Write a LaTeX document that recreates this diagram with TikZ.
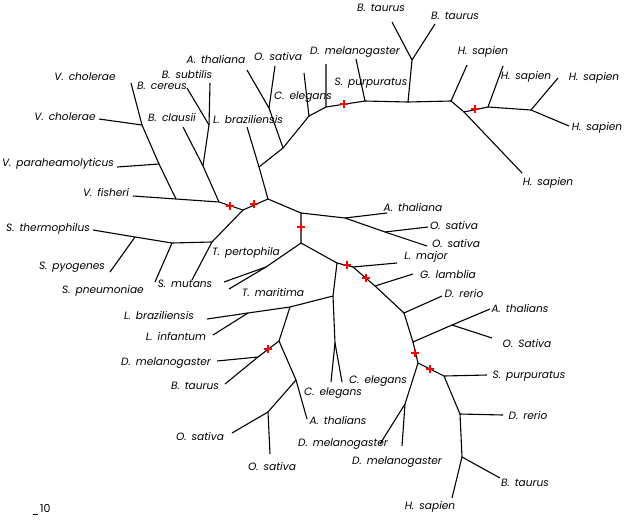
\documentclass[tikz,border=0pt]{standalone}
\usepackage{fontspec}
\setmainfont{Poppins}[WordSpace=1.6]
\newcommand{\redstar}[1]{\draw[red, line width=1.7pt, shift={(#1)}] (-4,0) -- (4,0) (0,-4) -- (0,4);}
\begin{document}
\begin{tikzpicture}[
    x=1pt,
    y=-1pt,
    branch/.style={line width=1.1pt},
    taxon/.style={font=\itshape\fontsize{10.6}{12}\selectfont, inner sep=0pt, anchor=mid}
]
\useasboundingbox (0,0) rectangle (628,525);

% Inner nodes, centre
\coordinate (r1t) at (301,213);
\coordinate (r1b) at (301,243);
\coordinate (na) at (268,199);
\coordinate (nb) at (259,167);
\coordinate (nc) at (283,148);
\coordinate (nd) at (269,108);
\coordinate (ne) at (309,116);
\coordinate (nf) at (326,107);
\coordinate (ng) at (365,101);
\coordinate (nh) at (408,102);
\coordinate (ni) at (412,60);
\coordinate (nj) at (451,101);
\coordinate (nk) at (464,112);
\coordinate (nl) at (488,107);
\coordinate (nm) at (531,110);
\coordinate (na1) at (345,218);
\coordinate (na2) at (385,232);

% Inner nodes, left
\coordinate (nn) at (243,210);
\coordinate (nx) at (219,202);
\coordinate (ny) at (203,166);
\coordinate (nz) at (209,125);
\coordinate (v1) at (176,199);
\coordinate (v2) at (159,164);
\coordinate (v3) at (142,125);
\coordinate (s1) at (212,242);
\coordinate (s2) at (172,243);
\coordinate (s3) at (135,237);

% Inner nodes, bottom
\coordinate (t1) at (266,267);
\coordinate (r2) at (337,263);
\coordinate (nl1) at (353,267);
\coordinate (nl2) at (375,286);
\coordinate (nl3) at (404,313);
\coordinate (nl4) at (413,342);
\coordinate (nao) at (452,325);
\coordinate (nl5) at (418,363);
\coordinate (nd1) at (405,404);
\coordinate (np1) at (444,376);
\coordinate (np2) at (460,414);
\coordinate (np3) at (462,457);
\coordinate (q1) at (333,296);
\coordinate (q2) at (290,307);
\coordinate (q3) at (248,313);
\coordinate (q4) at (335,343);
\coordinate (q5) at (279,341);
\coordinate (q6) at (258,357);
\coordinate (q7) at (296,380);
\coordinate (q8) at (268,412);

% Leaves
\coordinate (lbraz1) at (247,127);
\coordinate (athal1) at (247,70);
\coordinate (osat1) at (275,66);
\coordinate (celeg1) at (304,73);
\coordinate (dmel1) at (326,64);
\coordinate (spurp1) at (356,59);
\coordinate (btau1) at (392,22);
\coordinate (btau2) at (435,24);
\coordinate (hsap1) at (467,65);
\coordinate (hsap2) at (503,66);
\coordinate (hsap3) at (558,78);
\coordinate (hsap4) at (569,126);
\coordinate (hsap5) at (522,173);
\coordinate (athal2) at (387,213);
\coordinate (osat2) at (428,227);
\coordinate (osat3) at (427,246);
\coordinate (bclau) at (183,127);
\coordinate (bsub) at (210,83);
\coordinate (bcer) at (187,88);
\coordinate (vfis) at (133,196);
\coordinate (vpar) at (117,167);
\coordinate (vcho1) at (99,119);
\coordinate (vcho2) at (131,83);
\coordinate (smut) at (192,280);
\coordinate (spne) at (155,282);
\coordinate (sthe) at (93,230);
\coordinate (spyo) at (110,272);
\coordinate (tper) at (224,282);
\coordinate (tmar) at (229,289);
\coordinate (lmaj) at (397,263);
\coordinate (glam) at (413,274);
\coordinate (drer1) at (442,296);
\coordinate (athals1) at (490,309);
\coordinate (osats) at (492,338);
\coordinate (dmel2) at (380,444);
\coordinate (dmel3) at (402,446);
\coordinate (spurp2) at (487,375);
\coordinate (drer2) at (503,415);
\coordinate (btau3) at (500,478);
\coordinate (hsap6) at (452,498);
\coordinate (lbraz2) at (207,319);
\coordinate (linf) at (213,335);
\coordinate (celeg2) at (331,382);
\coordinate (celeg3) at (342,382);
\coordinate (dmel4) at (217,361);
\coordinate (btau4) at (225,384);
\coordinate (athals2) at (307,419);
\coordinate (osat4) at (232,433);
\coordinate (osat5) at (270,454);

% Branches, upper arc
\draw[branch] (r1b) -- (r1t) -- (na) -- (nb) -- (lbraz1);
\draw[branch] (nb) -- (nc) -- (nd) -- (athal1);
\draw[branch] (nd) -- (osat1);
\draw[branch] (nc) -- (ne) -- (celeg1);
\draw[branch] (ne) -- (nf) -- (dmel1);
\draw[branch] (nf) -- (ng) -- (spurp1);
\draw[branch] (ng) -- (nh) -- (ni) -- (btau1);
\draw[branch] (ni) -- (btau2);
\draw[branch] (nh) -- (nj) -- (hsap1);
\draw[branch] (nj) -- (nk) -- (hsap5);
\draw[branch] (nk) -- (nl) -- (hsap2);
\draw[branch] (nl) -- (nm) -- (hsap3);
\draw[branch] (nm) -- (hsap4);
\draw[branch] (r1t) -- (na1) -- (athal2);
\draw[branch] (na1) -- (na2) -- (osat2);
\draw[branch] (na2) -- (osat3);

% Branches, left
\draw[branch] (na) -- (nn) -- (nx) -- (v1) -- (vfis);
\draw[branch] (v1) -- (v2) -- (vpar);
\draw[branch] (v2) -- (v3) -- (vcho1);
\draw[branch] (v3) -- (vcho2);
\draw[branch] (nx) -- (ny) -- (bclau);
\draw[branch] (ny) -- (nz) -- (bsub);
\draw[branch] (nz) -- (bcer);
\draw[branch] (nn) -- (s1) -- (smut);
\draw[branch] (s1) -- (s2) -- (spne);
\draw[branch] (s2) -- (s3) -- (sthe);
\draw[branch] (s3) -- (spyo);

% Branches, lower
\draw[branch] (r1b) -- (t1) -- (tper);
\draw[branch] (t1) -- (tmar);
\draw[branch] (r1b) -- (r2) -- (nl1) -- (lmaj);
\draw[branch] (nl1) -- (nl2) -- (glam);
\draw[branch] (nl2) -- (nl3) -- (drer1);
\draw[branch] (nl3) -- (nl4) -- (nao) -- (athals1);
\draw[branch] (nao) -- (osats);
\draw[branch] (nl4) -- (nl5) -- (nd1) -- (dmel2);
\draw[branch] (nd1) -- (dmel3);
\draw[branch] (nl5) -- (np1) -- (spurp2);
\draw[branch] (np1) -- (np2) -- (drer2);
\draw[branch] (np2) -- (np3) -- (btau3);
\draw[branch] (np3) -- (hsap6);
\draw[branch] (r2) -- (q1) -- (q2) -- (q3) -- (lbraz2);
\draw[branch] (q3) -- (linf);
\draw[branch] (q1) -- (q4) -- (celeg2);
\draw[branch] (q4) -- (celeg3);
\draw[branch] (q2) -- (q5) -- (q6) -- (dmel4);
\draw[branch] (q6) -- (btau4);
\draw[branch] (q5) -- (q7) -- (athals2);
\draw[branch] (q7) -- (q8) -- (osat4);
\draw[branch] (q8) -- (osat5);

% Marks
\redstar{230,206}
\redstar{254,204}
\redstar{301,227}
\redstar{344,104}
\redstar{475,109}
\redstar{347,265}
\redstar{366,278}
\redstar{268,349}
\redstar{415,353}
\redstar{430,369}

% Labels
\node[taxon] (btauL1) at (381,9) {B. taurus};
\node[taxon] (btauL2) at (455,17) {B. taurus};
\node[taxon] (dmelL1) at (355,52) {D. melanogaster};
\node[taxon] (spurpL1) at (371,83) {S. purpuratus};
\node[taxon] (hsapL1) at (483,52) {H. sapien};
\node[taxon] (hsapL2) at (526,77) {H. sapien};
\node[taxon] (hsapL3) at (594,78) {H. sapien};
\node[taxon] (hsapL4) at (597,128) {H. sapien};
\node[taxon] (hsapL5) at (548,183) {H. sapien};
\node[taxon] (athalL1) at (216,61) {A. thaliana};
\node[taxon] (osatL1) at (278,58) {O. sativa};
\node[taxon] (celegL1) at (303,97) {C. elegans};
\node[taxon] (bsubL) at (187,76) {B. subtilis};
\node[taxon] (bcerL) at (162,87) {B. cereus};
\node[taxon] (vchoL1) at (85,78) {V. cholerae};
\node[taxon] (vchoL2) at (65,118) {V. cholerae};
\node[taxon] (bclauL) at (172,119) {B. clausii};
\node[taxon] (lbrazL1) at (248,121) {L. braziliensis};
\node[taxon] (vparL) at (58,164) {V. paraheamolyticus};
\node[taxon] (vfisL) at (106,194) {V. fisheri};
\node[taxon] (stheL) at (48,229) {S. thermophilus};
\node[taxon] (tperL) at (246,253) {T. pertophila};
\node[taxon] (spyoL) at (72,267) {S. pyogenes};
\node[taxon] (smutL) at (185,285) {S. mutans};
\node[taxon] (spneL) at (103,291) {S. pneumoniae};
\node[taxon] (tmarL) at (273,294) {T. maritima};
\node[taxon] (lbrazL2) at (159,317) {L. braziliensis};
\node[taxon] (linfL) at (176,338) {L. infantum};
\node[taxon] (dmelL4) at (166,363) {D. melanogaster};
\node[taxon] (btauL4) at (195,387) {B. taurus};
\node[taxon] (osatL4) at (200,438) {O. sativa};
\node[taxon] (osatL5) at (272,468) {O. sativa};
\node[taxon] (athalL2) at (413,209) {A. thaliana};
\node[taxon] (osatL2) at (454,227) {O. sativa};
\node[taxon] (osatL3) at (456,245) {O. sativa};
\node[taxon] (lmajL) at (426,257) {L. major};
\node[taxon] (glamL) at (448,276) {G. lamblia};
\node[taxon] (drerL1) at (464,295) {D. rerio};
\node[taxon] (athalsL1) at (520,310) {A. thalians};
\node[taxon] (osatsL) at (527,345) {O. Sativa};
\node[taxon] (spurpL2) at (529,376) {S. purpuratus};
\node[taxon] (drerL2) at (528,417) {D. rerio};
\node[taxon] (btauL3) at (525,484) {B. taurus};
\node[taxon] (hsapL6) at (430,507) {H. sapien};
\node[taxon] (dmelL3) at (397,462) {D. melanogaster};
\node[taxon] (dmelL2) at (343,444) {D. melanogaster};
\node[taxon] (celegL3) at (378,381) {C. elegans};
\node[taxon] (celegL2) at (333,393) {C. elegans};
\node[taxon] (athalsL2) at (338,422) {A. thalians};

% Scale
\coordinate (barL) at (33,514);
\coordinate (barR) at (38,514);
\draw[line width=0.8pt] (barL) -- (barR);
\node[font=\fontsize{11}{13}\selectfont, inner sep=0pt, anchor=west] (scaleL) at (40,508) {10};

\end{tikzpicture}
\end{document}
